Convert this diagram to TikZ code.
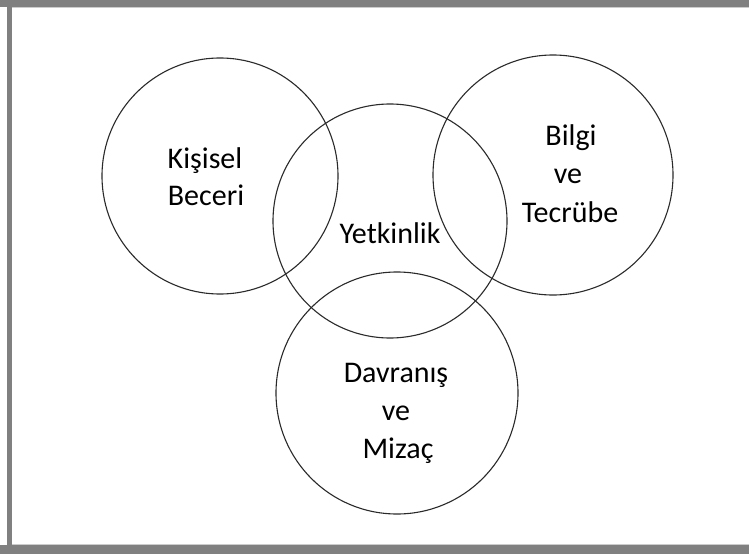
\documentclass[tikz,border=0pt]{standalone}
\usepackage{fontspec}
\setmainfont{Carlito}
\definecolor{framegray}{HTML}{808080}
\definecolor{ringgray}{HTML}{2A2A2A}
\begin{document}
\begin{tikzpicture}[x=1pt,y=-1pt,
  ring/.style={circle,draw=ringgray,line width=1.1pt,minimum size=#1,inner sep=0pt},
  lbl/.style={anchor=base,inner sep=0pt,font=\fontsize{30}{36}\selectfont,text=black}]
\useasboundingbox (0,0) rectangle (749,554);
\fill[white] (0,0) rectangle (749,554);
% frame
\fill[framegray] (0,0) rectangle (749,7);
\fill[framegray] (7,0) rectangle (12,554);
\fill[framegray] (0,545) rectangle (749,554);
\draw[gray!40,line width=1pt] (12,7.5) -- (749,7.5);
\draw[gray!40,line width=1pt] (12,544.5) -- (749,544.5);
% circles
\node[ring=236pt] (kb) at (220,176) {};
\node[ring=234pt] (yk) at (390,221) {};
\node[ring=240pt] (bt) at (553,175) {};
\node[ring=242pt] (dm) at (397,393) {};
% texts
\node[lbl] (t1) at (205,168) {Kişisel};
\node[lbl] (t2) at (206,205) {Beceri};
\node[lbl] (t3) at (390,243) {Yetkinlik};
\node[lbl] (t4) at (571,145) {Bilgi};
\node[lbl] (t5) at (568,183) {ve};
\node[lbl] (t6) at (570,222) {Tecrübe};
\node[lbl] (t7) at (396,382) {Davranış};
\node[lbl] (t8) at (396,420) {ve};
\node[lbl] (t9) at (398,458) {Mizaç};
\end{tikzpicture}
\end{document}
